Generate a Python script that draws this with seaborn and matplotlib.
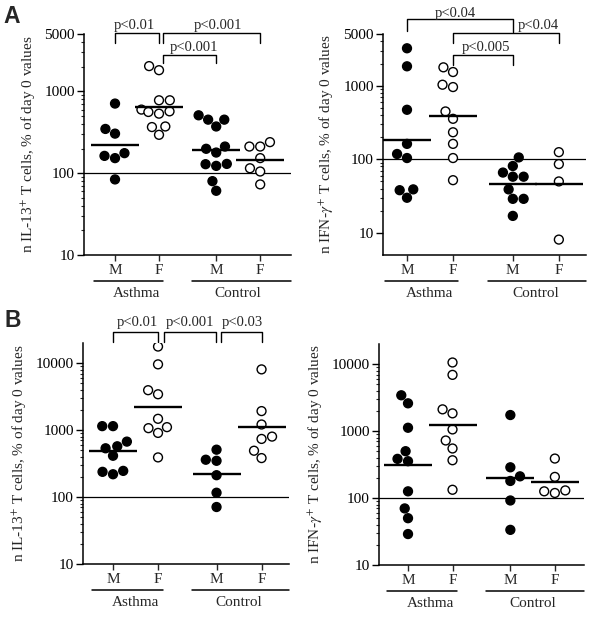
import numpy as np
import pandas as pd
import matplotlib
matplotlib.use("Agg")
import matplotlib.pyplot as plt
from matplotlib.ticker import FixedLocator, NullFormatter
import seaborn as sns

# ---------------- data ----------------
group_names = ["Asthma", "Control"]
sex_labels = ["M", "F", "M", "F"]
sex_codes = ["M", "F", "M", "F"]
positions = [0.0, 1.0, 2.3, 3.3]          # Asthma M, Asthma F, Control M, Control F

# Panel A, IL-13
a_il13_asthma_m = [711, 305, 348, 163, 153, 176, 84]
a_il13_asthma_f = [2042, 1820, 780, 780, 600, 561, 535, 571, 373, 295, 367]
a_il13_control_m = [511, 452, 452, 373, 212, 179, 199, 129, 123, 130, 80, 61]
a_il13_control_f = [240, 212, 212, 153, 115, 105, 73]
# Panel A, IFN-gamma
a_ifng_asthma_m = [3228, 1836, 471, 162, 118, 104, 39, 38, 30]
a_ifng_asthma_f = [1778, 1535, 959, 1032, 447, 355, 233, 162, 104, 52]
a_ifng_control_m = [106, 81, 66, 58, 58, 39, 29, 29, 17]
a_ifng_control_f = [125, 86, 50, 8.1]
# Panel B, IL-13
b_il13_asthma_m = [1146, 1146, 573, 673, 535, 414, 246, 219, 238]
b_il13_asthma_f = [17700, 9594, 3945, 3430, 1475, 1069, 908, 1107, 391]
b_il13_control_m = [510, 361, 348, 212, 116, 71]
b_il13_control_f = [8070, 1923, 1213, 800, 738, 492, 382]
# Panel B, IFN-gamma
b_ifng_asthma_m = [3428, 2600, 1122, 385, 501, 355, 126, 70, 50, 29]
b_ifng_asthma_f = [10590, 6918, 2113, 1841, 1059, 550, 724, 367, 133]
b_ifng_control_m = [1738, 288, 211, 180, 92, 33.5]
b_ifng_control_f = [389, 207, 130, 119, 126]

ylabel_il13 = "n IL-13$^{+}$ T cells, % of day 0 values"
ylabel_ifng = "n IFN-$\\gamma^{+}$ T cells, % of day 0 values"

yticks_a = [10, 100, 1000, 5000]
yticks_b = [10, 100, 1000, 10000]

# significance brackets: (x1, x2, top, leg1, leg2, label, text_x, text_y)
sig_a_il13 = [
    (0.0, 1.0, 1.0045, 0.961, 0.961, "p<0.01", 0.44, 1.024),
    (1.1, 3.3, 1.0045, 0.961, 0.961, "p<0.001", 2.33, 1.024),
    (1.1, 2.3, 0.906, 0.869, 0.869, "p<0.001", 1.80, 0.926),
]
sig_a_ifng = [
    (0.0, 2.3, 1.068, 1.017, 1.012, "p<0.04", 1.04, 1.080),
    (1.0, 3.3, 1.0045, 0.959, 0.959, "p<0.04", 2.85, 1.023),
    (1.0, 2.3, 0.906, 0.861, 0.861, "p<0.005", 1.72, 0.926),
]
sig_b_il13 = [
    (0.0, 1.0, 1.051, 1.006, 1.006, "p<0.01", 0.53, 1.077),
    (1.13, 2.28, 1.051, 1.006, 1.006, "p<0.001", 1.71, 1.077),
    (2.39, 3.3, 1.051, 1.006, 1.006, "p<0.03", 2.88, 1.077),
]
sig_b_ifng = []

# ---------------- style ----------------
sns.set_style("ticks")
plt.rcParams["font.family"] = ["Liberation Serif", "DejaVu Serif"]
plt.rcParams["mathtext.fontset"] = "stix"

W, H = 600, 620
fig = plt.figure(figsize=(W / 100, H / 100), dpi=100)


def px_rect(l, t, r, b):
    return [l / W, 1 - b / H, (r - l) / W, (b - t) / H]


def make_df(series):
    rows = []
    for pos, sex, vals in zip(positions, sex_codes, series):
        for v in vals:
            rows.append((pos, sex, v))
    return pd.DataFrame(rows, columns=["pos", "sex", "value"])


panels = [
    dict(rect=px_rect(84, 34.3, 291, 255), ylim=(10, 5000), yticks=yticks_a,
         xlim=(-0.705, 4.0), ylabel=ylabel_il13, sig=sig_a_il13,
         series=[a_il13_asthma_m, a_il13_asthma_f, a_il13_control_m, a_il13_control_f]),
    dict(rect=px_rect(382.7, 34.3, 586, 255), ylim=(5, 5000), yticks=yticks_a,
         xlim=(-0.528, 3.89), ylabel=ylabel_ifng, sig=sig_a_ifng,
         series=[a_ifng_asthma_m, a_ifng_asthma_f, a_ifng_control_m, a_ifng_control_f]),
    dict(rect=px_rect(83, 343, 289, 564), ylim=(10, 20000), yticks=yticks_b,
         xlim=(-0.667, 3.91), ylabel=ylabel_il13, sig=sig_b_il13,
         series=[b_il13_asthma_m, b_il13_asthma_f, b_il13_control_m, b_il13_control_f]),
    dict(rect=px_rect(379, 344, 584, 565), ylim=(10, 20000), yticks=yticks_b,
         xlim=(-0.652, 3.955), ylabel=ylabel_ifng, sig=sig_b_ifng,
         series=[b_ifng_asthma_m, b_ifng_asthma_f, b_ifng_control_m, b_ifng_control_f]),
]

for p in panels:
    ax = fig.add_axes(p["rect"])
    ax.set_yscale("log")
    ax.set_ylim(*p["ylim"])
    ax.set_xlim(*p["xlim"])
    df = make_df(p["series"])

    ax.axhline(100, color="black", lw=0.9, zorder=1)

    sns.swarmplot(data=df, x="pos", y="value", hue="sex",
                  palette={"M": "black", "F": "white"}, native_scale=True,
                  size=6.4, linewidth=1.0, edgecolor="black", legend=False,
                  ax=ax, zorder=3)
    # geometric mean (mean computed in log space on a log-scaled axis)
    sns.pointplot(data=df, x="pos", y="value", native_scale=True,
                  estimator="mean", errorbar=None, color="black",
                  marker="_", markersize=34, markeredgewidth=1.7,
                  linestyle="none", ax=ax, zorder=4)

    ax.set_xlim(*p["xlim"])
    ax.set_ylim(*p["ylim"])
    ax.set_xticks(positions)
    ax.set_xticklabels(sex_labels, fontsize=11)
    ax.set_yticks(p["yticks"])
    ax.set_yticklabels([str(t) for t in p["yticks"]], fontsize=11)
    top = p["ylim"][1]
    minor = [m * 10 ** k for k in range(1, 5) for m in range(2, 10)
             if m * 10 ** k < top and m * 10 ** k not in p["yticks"]]
    ax.yaxis.set_minor_locator(FixedLocator(minor))
    ax.yaxis.set_minor_formatter(NullFormatter())
    ax.tick_params(axis="y", which="major", direction="out", length=5,
                   width=1, pad=1.5, colors="black")
    ax.tick_params(axis="y", which="minor", direction="out", length=2.5,
                   width=0.8)
    ax.tick_params(axis="x", which="major", direction="out", length=4.5,
                   width=1, pad=2)
    ax.tick_params(axis="x", which="minor", bottom=False)
    for s in ("top", "right"):
        ax.spines[s].set_visible(False)
    for s in ("left", "bottom"):
        ax.spines[s].set_linewidth(1.1)
        ax.spines[s].set_color("black")
    ax.set_xlabel("")
    ax.set_ylabel(p["ylabel"], fontsize=11, labelpad=5)
    ax.set_facecolor("white")

    trans = ax.get_xaxis_transform()
    # group underlines and names
    xr = p["xlim"][1]
    ax.plot([-0.47, 1.1], [-0.118, -0.118], transform=trans, clip_on=False,
            color="black", lw=1.1)
    ax.plot([1.75, xr], [-0.118, -0.118], transform=trans, clip_on=False,
            color="black", lw=1.1)
    ax.text((positions[0] + positions[1]) / 2, -0.175, group_names[0],
            transform=trans, ha="center", va="center", fontsize=11)
    ax.text((positions[2] + positions[3]) / 2, -0.175, group_names[1],
            transform=trans, ha="center", va="center", fontsize=11)

    for (x1, x2, yt, l1, l2, lab, tx, ty) in p["sig"]:
        ax.plot([x1, x1, x2, x2], [l1, yt, yt, l2], transform=trans,
                clip_on=False, color="black", lw=1.0)
        ax.text(tx, ty, lab, transform=trans, ha="center", va="baseline",
                fontsize=10.5)

fig.text(3 / W, 1 - 23 / H, "A", fontsize=16.5, fontweight="bold",
         family="Liberation Sans", ha="left", va="baseline")
fig.text(4 / W, 1 - 327 / H, "B", fontsize=16.5, fontweight="bold",
         family="Liberation Sans", ha="left", va="baseline")

fig.savefig("out.png", dpi=100, facecolor="white")
